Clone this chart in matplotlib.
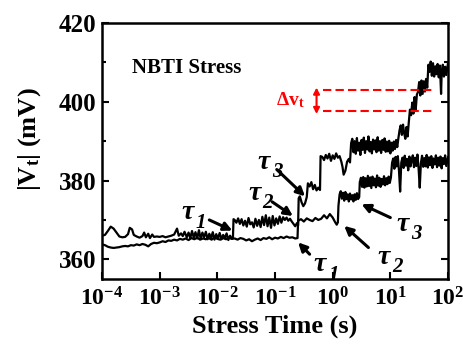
import matplotlib
matplotlib.use("Agg")
import matplotlib.pyplot as plt
import numpy as np
from matplotlib.ticker import FixedLocator, LogLocator, MultipleLocator, NullFormatter

plt.rcParams['font.family'] = 'Liberation Serif'
plt.rcParams['font.weight'] = 'bold'
plt.rcParams['axes.labelweight'] = 'bold'
plt.rcParams['mathtext.fontset'] = 'custom'
plt.rcParams['mathtext.rm'] = 'Liberation Serif:bold'
plt.rcParams['mathtext.bf'] = 'Liberation Serif:bold'
plt.rcParams['mathtext.it'] = 'Liberation Serif:italic:bold'

# upper trace (log10 of stress time, |Vt| in mV)
upper_logt = [-4.00, -3.95, -3.90, -3.85, -3.80, -3.75, -3.70, -3.65, -3.60, -3.55, -3.52, -3.48, -3.45, -3.40,
              -3.35, -3.30, -3.27, -3.24, -3.20, -3.17, -3.13, -3.10, -3.05, -3.00, -2.95, -2.90, -2.85, -2.80,
              -2.75, -2.70, -2.67, -2.63, -2.60, -2.57, -2.53, -2.50, -2.47, -2.44, -2.41, -2.38, -2.35, -2.32,
              -2.29, -2.26, -2.23, -2.20, -2.17, -2.14, -2.11, -2.08, -2.05, -2.02, -1.99, -1.96, -1.93, -1.90,
              -1.87, -1.84, -1.81, -1.78, -1.75, -1.73, -1.72, -1.70, -1.67, -1.64, -1.61, -1.58, -1.55, -1.52,
              -1.49, -1.46, -1.43, -1.40, -1.37, -1.34, -1.31, -1.28, -1.25, -1.22, -1.19, -1.16, -1.13, -1.10,
              -1.07, -1.04, -1.01, -0.98, -0.95, -0.92, -0.89, -0.86, -0.83, -0.80, -0.77, -0.74, -0.71, -0.68,
              -0.65, -0.62, -0.60, -0.59, -0.57, -0.54, -0.51, -0.48, -0.45, -0.43, -0.40, -0.37, -0.34, -0.31,
              -0.28, -0.25, -0.22, -0.21, -0.18, -0.15, -0.12, -0.09, -0.06, -0.03, 0.00, 0.03, 0.06, 0.09,
              0.12, 0.15, 0.17, 0.19, 0.22, 0.25, 0.28, 0.30, 0.32, 0.34, 0.36, 0.38, 0.40, 0.42, 0.44, 0.46,
              0.48, 0.50, 0.52, 0.54, 0.56, 0.58, 0.60, 0.62, 0.64, 0.66, 0.68, 0.70, 0.72, 0.74, 0.76, 0.78,
              0.80, 0.82, 0.84, 0.86, 0.88, 0.90, 0.92, 0.94, 0.96, 0.98, 1.00, 1.02, 1.04, 1.06, 1.08, 1.10,
              1.12, 1.14, 1.16, 1.18, 1.20, 1.22, 1.24, 1.26, 1.28, 1.30, 1.32, 1.34, 1.36, 1.38, 1.40, 1.42,
              1.44, 1.46, 1.48, 1.50, 1.52, 1.54, 1.56, 1.58, 1.60, 1.62, 1.64, 1.66, 1.68, 1.70, 1.72, 1.74,
              1.76, 1.78, 1.80, 1.82, 1.84, 1.86, 1.88, 1.89, 1.91, 1.93, 1.95, 1.97, 2.00]
upper_mv = [366.0, 366.2, 367.2, 368.3, 367.8, 366.8, 365.8, 365.6, 365.7, 366.4, 368.0, 367.6, 366.2, 365.8,
            365.5, 365.9, 366.8, 365.6, 366.5, 365.4, 366.3, 365.7, 365.8, 365.7, 365.9, 365.6, 365.8, 366.0,
            366.3, 367.8, 366.0, 366.6, 365.9, 367.0, 365.6, 366.8, 365.4, 367.2, 365.5, 366.9, 365.3, 367.4,
            365.2, 366.8, 365.6, 367.0, 365.1, 366.5, 365.4, 366.9, 365.0, 366.4, 365.3, 366.7, 365.1, 366.2,
            365.4, 366.6, 364.9, 366.0, 365.2, 365.6, 370.2, 370.0, 369.3, 370.4, 369.0, 370.2, 368.6, 369.8,
            368.3, 370.5, 368.9, 369.4, 368.1, 370.3, 368.5, 370.0, 368.2, 370.8, 368.7, 371.2, 368.4, 370.6,
            368.0, 371.0, 368.6, 370.4, 369.0, 370.9, 369.3, 370.7, 370.0, 370.6, 369.8, 370.3, 369.6, 369.0,
            368.4, 369.2, 368.6, 375.5, 376.0, 374.5, 373.5, 374.2, 375.8, 379.3, 378.5, 379.6, 377.8, 378.9,
            377.5, 378.2, 377.6, 386.2, 386.0, 385.2, 386.5, 385.6, 386.8, 385.0, 386.4, 385.5, 386.9, 385.8,
            386.2, 384.8, 383.5, 381.5, 382.5, 384.8, 385.5, 384.6, 389.5, 390.6, 387.2, 390.0, 386.8, 390.8,
            387.6, 389.6, 386.5, 390.3, 387.8, 390.9, 387.0, 390.0, 387.9, 391.2, 387.4, 389.8, 386.9, 390.4,
            387.9, 390.2, 387.2, 391.0, 387.6, 390.0, 387.0, 390.3, 387.8, 390.7, 387.3, 389.9, 387.4, 390.1,
            386.9, 389.6, 387.6, 389.9, 388.0, 390.3, 388.5, 390.8, 392.8, 394.0, 391.6, 394.2, 392.0, 390.6,
            393.6, 391.2, 394.8, 398.0, 396.6, 399.8, 397.0, 401.2, 398.0, 401.8, 402.5, 405.0, 401.6, 405.4,
            402.0, 405.2, 402.6, 405.8, 403.6, 409.4, 407.6, 410.2, 406.6, 409.8, 406.4, 409.0, 407.0, 409.6,
            406.2, 409.2, 402.0, 407.2, 409.4, 406.4, 408.9, 406.8, 409.8]

# lower trace
lower_logt = [-4.00, -3.95, -3.90, -3.85, -3.80, -3.75, -3.70, -3.65, -3.60, -3.55, -3.50, -3.45, -3.40, -3.35,
              -3.30, -3.25, -3.20, -3.15, -3.10, -3.05, -3.00, -2.95, -2.90, -2.85, -2.80, -2.75, -2.70, -2.65,
              -2.60, -2.55, -2.50, -2.45, -2.40, -2.35, -2.30, -2.25, -2.20, -2.15, -2.10, -2.05, -2.00, -1.95,
              -1.90, -1.85, -1.80, -1.75, -1.70, -1.65, -1.60, -1.55, -1.50, -1.45, -1.40, -1.35, -1.30, -1.25,
              -1.20, -1.15, -1.10, -1.05, -1.00, -0.95, -0.90, -0.85, -0.80, -0.75, -0.70, -0.65, -0.61, -0.60,
              -0.55, -0.50, -0.45, -0.40, -0.35, -0.30, -0.25, -0.20, -0.15, -0.10, -0.05, 0.00, 0.04, 0.07,
              0.09, 0.10, 0.12, 0.14, 0.16, 0.18, 0.20, 0.22, 0.24, 0.26, 0.28, 0.30, 0.32, 0.34, 0.36, 0.38,
              0.40, 0.42, 0.44, 0.46, 0.47, 0.49, 0.51, 0.53, 0.55, 0.57, 0.59, 0.61, 0.63, 0.65, 0.67, 0.69,
              0.71, 0.73, 0.75, 0.77, 0.79, 0.81, 0.83, 0.85, 0.87, 0.89, 0.91, 0.93, 0.95, 0.97, 0.99, 1.01,
              1.03, 1.05, 1.07, 1.09, 1.11, 1.13, 1.15, 1.17, 1.19, 1.21, 1.23, 1.25, 1.27, 1.29, 1.31, 1.33,
              1.35, 1.37, 1.39, 1.41, 1.43, 1.45, 1.47, 1.49, 1.51, 1.53, 1.55, 1.57, 1.59, 1.61, 1.63, 1.65,
              1.67, 1.69, 1.71, 1.73, 1.75, 1.77, 1.79, 1.81, 1.83, 1.85, 1.87, 1.89, 1.91, 1.93, 1.95, 1.97,
              2.00]
lower_mv = [363.8, 363.6, 363.2, 363.0, 362.9, 363.0, 363.1, 363.3, 363.4, 363.3, 363.6, 363.5, 363.8, 363.6,
            363.9, 363.7, 363.3, 363.9, 364.2, 364.1, 364.3, 364.6, 364.4, 364.8, 364.7, 365.0, 364.8, 365.2,
            365.0, 365.3, 364.9, 365.4, 365.1, 365.5, 365.0, 365.3, 365.1, 365.4, 365.0, 365.6, 365.2, 365.0,
            365.4, 365.1, 365.5, 365.2, 365.3, 365.0, 365.4, 365.2, 364.8, 365.1, 364.6, 365.0, 365.3, 364.9,
            365.4, 365.2, 365.6, 365.1, 365.5, 365.3, 365.7, 365.4, 365.8, 365.5, 365.6, 365.3, 365.4, 369.8,
            370.2, 369.6, 370.4, 370.0, 369.7, 370.5, 370.0, 370.3, 371.2, 370.4, 371.5, 370.6, 369.5, 368.8,
            369.4, 373.6, 376.5, 377.3, 375.4, 376.9, 374.9, 377.1, 375.3, 376.5, 374.7, 376.7, 375.2, 376.3,
            374.7, 376.5, 375.1, 376.8, 375.3, 375.8, 379.6, 380.7, 378.4, 380.9, 378.2, 380.6, 378.5, 381.2,
            378.6, 380.8, 378.1, 381.0, 378.8, 380.5, 378.3, 381.3, 378.7, 380.7, 378.4, 380.4, 379.0, 381.1,
            378.8, 380.6, 379.1, 381.0, 379.4, 380.8, 384.5, 385.6, 383.0, 386.0, 383.6, 386.2, 382.5, 377.2,
            384.6, 385.8, 383.2, 386.3, 383.8, 385.5, 382.6, 386.1, 383.6, 385.2, 386.4, 383.4, 385.8, 383.7,
            386.6, 383.1, 378.2, 384.4, 386.3, 383.5, 385.7, 383.6, 386.5, 383.3, 385.9, 383.9, 386.2, 383.2,
            385.6, 384.1, 386.4, 383.4, 385.8, 383.8, 386.1, 383.1, 385.7, 384.2, 386.4, 383.7, 385.9]

# tau labels: subscript, text position (log t, mV), arrow tail and head (log t, mV)
tau_sub = ['1', '2', '3', '1', '2', '3']
tau_xy = [(-2.52, 371.8), (-1.36, 376.8), (-1.19, 384.6), (-0.22, 358.6), (0.89, 360.5), (1.22, 368.9)]
tau_tail = [(-2.14, 370.0), (-1.05, 374.6), (-0.97, 382.8), (-0.40, 361.3), (0.62, 363.0), (1.00, 370.6)]
tau_head = [(-1.74, 367.3), (-0.69, 371.0), (-0.48, 376.0), (-0.60, 364.3), (0.20, 368.5), (0.50, 374.0)]

dvt_levels = [403.0, 397.7]
dvt_span = (-0.17, 1.74)
xtick_exps = [-4, -3, -2, -1, 0, 1, 2]
ytick_vals = [360, 380, 400, 420]

fig = plt.figure(figsize=(4.64, 3.51), dpi=100)
ax = fig.add_axes([0.22, 0.205, 0.7455, 0.7295])

ax.plot(10 ** np.array(upper_logt), upper_mv, color='black', lw=1.6)
ax.plot(10 ** np.array(lower_logt), lower_mv, color='black', lw=1.6)

ax.set_xscale('log')
ax.set_xlim(1e-4, 1e2)
ax.set_ylim(355, 420)

ax.xaxis.set_major_locator(FixedLocator([10.0 ** e for e in xtick_exps]))
ax.set_xticklabels([r'$10^{%d}$' % e for e in xtick_exps])
ax.xaxis.set_minor_locator(LogLocator(base=10, subs=np.arange(2, 10)))
ax.xaxis.set_minor_formatter(NullFormatter())
ax.set_yticks(ytick_vals)
ax.yaxis.set_minor_locator(MultipleLocator(10))

ax.tick_params(which='both', direction='in', right=True, top=False, width=1.5, labelsize=17)
ax.tick_params(axis='x', pad=6)
ax.tick_params(axis='y', pad=4, labelsize=18)
ax.tick_params(which='major', length=5)
ax.tick_params(which='minor', length=3)
for s in ax.spines.values():
    s.set_linewidth(1.8)

ax.set_xlabel('Stress Time (s)', fontsize=19, fontweight='bold', labelpad=3)
ax.set_ylabel(r'|V$_{\rm t}$| (mV)', fontsize=19, fontweight='bold')
ax.yaxis.set_label_coords(-0.17, 0.545)

ax.text(10 ** -3.48, 408.5, 'NBTI Stress', fontsize=15, va='center', ha='left')

for sub, pos, tail, head in zip(tau_sub, tau_xy, tau_tail, tau_head):
    ax.text(10 ** pos[0], pos[1], 'τ', fontsize=20, fontstyle='italic', ha='center', va='center')
    ax.annotate(sub, xy=(10 ** pos[0], pos[1]), xytext=(6, -7), textcoords='offset points',
                fontsize=15, fontstyle='italic', ha='left', va='center')
    ax.annotate('', xy=(10 ** head[0], head[1]), xytext=(10 ** tail[0], tail[1]),
                arrowprops=dict(arrowstyle='-|>,head_length=0.5,head_width=0.25', color='black', lw=2.2,
                                shrinkA=0, shrinkB=0))

# delta Vt marker
ax.hlines(dvt_levels, 10 ** dvt_span[0], 10 ** dvt_span[1], colors='red', linestyles=(0, (4, 2)), lw=1.5)
ax.annotate('', xy=(10 ** -0.28, 403.6), xytext=(10 ** -0.28, 396.9),
            arrowprops=dict(arrowstyle='<|-|>,head_length=0.35,head_width=0.18', color='red', lw=1.5,
                            shrinkA=0, shrinkB=0))
ax.text(10 ** -0.98, 400.3, r'$\Delta$v$_{\rm t}$', color='red', fontsize=14, va='center', ha='left')

fig.savefig('out.png', dpi=100)
